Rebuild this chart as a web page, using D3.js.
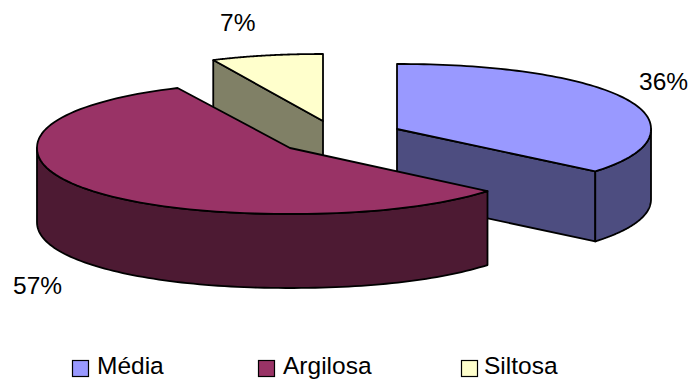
<!DOCTYPE html>
<html lang="pt">
<head>
<meta charset="utf-8">
<title>Textura do solo</title>
<script src="https://cdn.jsdelivr.net/npm/d3@7/dist/d3.min.js"></script>
<style>
  html, body { margin: 0; padding: 0; background: #fff; }
  svg { display: block; }
  text { font-family: "Liberation Sans", Arial, sans-serif; font-size: 24.5px; fill: #000; }
</style>
</head>
<body>
<svg id="chart" width="691" height="381"></svg>
<script>
// Chart values
const categories = ["Média", "Argilosa", "Siltosa"];
const shares = [36, 57, 7];
const topColours = ["#9999FF", "#993366", "#FFFFCC"];
const wallColours = ["#4D4D80", "#4D1A33", "#808066"];

// Slice layout: each slice is pulled out of the pie, so each has its own hub
const hubX = [397, 290, 323];
const hubY = [129, 148, 121];
const radiusX = [254, 253, 247];
const radiusY = [65, 66, 67];
const depths = [70, 74, 72];
const rimSquareness = 0.95;
const labelX = [639, 13, 220];
const labelY = [90, 294, 31];
const legendSwatchX = [72, 258, 461];
const legendTextX = [97, 283, 484];

const svg = d3.select("#chart");
const colour = d3.scaleOrdinal().domain(categories).range(topColours);
const wall = d3.scaleOrdinal().domain(categories).range(wallColours);
const pct = v => `${v}%`;

const slices = d3.pie().sort(null).value(d => d.share)(
  categories.map((name, i) => ({ name, share: shares[i], i }))
);

// Angle is clockwise from 12 o'clock, tilted onto the slightly squared ellipse of the top face
const bulge = v => Math.sign(v) * Math.pow(Math.abs(v), rimSquareness);
const project = (i, a, drop = 0) => [
  hubX[i] + radiusX[i] * bulge(Math.sin(a)),
  hubY[i] - radiusY[i] * bulge(Math.cos(a)) + drop
];
const rim = (i, a0, a1, drop = 0) =>
  d3.range(0, 1.0001, 1 / 96).map(t => project(i, a0 + (a1 - a0) * t, drop));
const path = d3.line();
const closed = pts => path(pts) + "Z";

const outline = sel => sel
  .attr("stroke", "#000")
  .attr("stroke-width", 1.8)
  .attr("stroke-linejoin", "round");

// Back-to-front: Siltosa, then Média, then Argilosa
[2, 0, 1].forEach(idx => {
  const s = slices[idx];
  const d = s.data;
  const depth = depths[idx];
  const g = svg.append("g").attr("class", "slice").attr("data-name", d.name);
  const hub = [hubX[idx], hubY[idx]];
  const hubLow = [hubX[idx], hubY[idx] + depth];

  // Flat cut faces that turn towards the viewer
  if (Math.cos(s.endAngle) < 0) {
    g.append("path")
      .attr("d", closed([hub, project(idx, s.endAngle), project(idx, s.endAngle, depth), hubLow]))
      .attr("fill", wall(d.name)).call(outline);
  }
  if (Math.sin(s.startAngle) < 0) {
    g.append("path")
      .attr("d", closed([hub, project(idx, s.startAngle), project(idx, s.startAngle, depth), hubLow]))
      .attr("fill", wall(d.name)).call(outline);
  }

  // Curved outer wall, only along the front half of the ellipse
  const wallStart = Math.max(s.startAngle, Math.PI / 2);
  const wallEnd = Math.min(s.endAngle, 3 * Math.PI / 2);
  if (wallEnd > wallStart) {
    g.append("path")
      .attr("d", closed([
        ...rim(idx, wallStart, wallEnd),
        ...rim(idx, wallEnd, wallStart, depth)
      ]))
      .attr("fill", wall(d.name)).call(outline);
  }

  // Top face
  g.append("path")
    .attr("d", closed([hub, ...rim(idx, s.startAngle, s.endAngle)]))
    .attr("fill", colour(d.name)).call(outline);
});

// Percentage labels
svg.append("g").selectAll("text").data(slices).join("text")
  .attr("x", d => labelX[d.data.i])
  .attr("y", d => labelY[d.data.i])
  .text(d => pct(d.data.share));

// Legend
const legend = svg.append("g").selectAll("g").data(categories).join("g");
legend.append("rect")
  .attr("x", (d, i) => legendSwatchX[i] + 0.5)
  .attr("y", 360.5)
  .attr("width", 16)
  .attr("height", 16)
  .attr("fill", d => colour(d))
  .attr("stroke", "#000")
  .attr("stroke-width", 1.2);
legend.append("text")
  .attr("x", (d, i) => legendTextX[i])
  .attr("y", 374)
  .text(d => d);
</script>
</body>
</html>
